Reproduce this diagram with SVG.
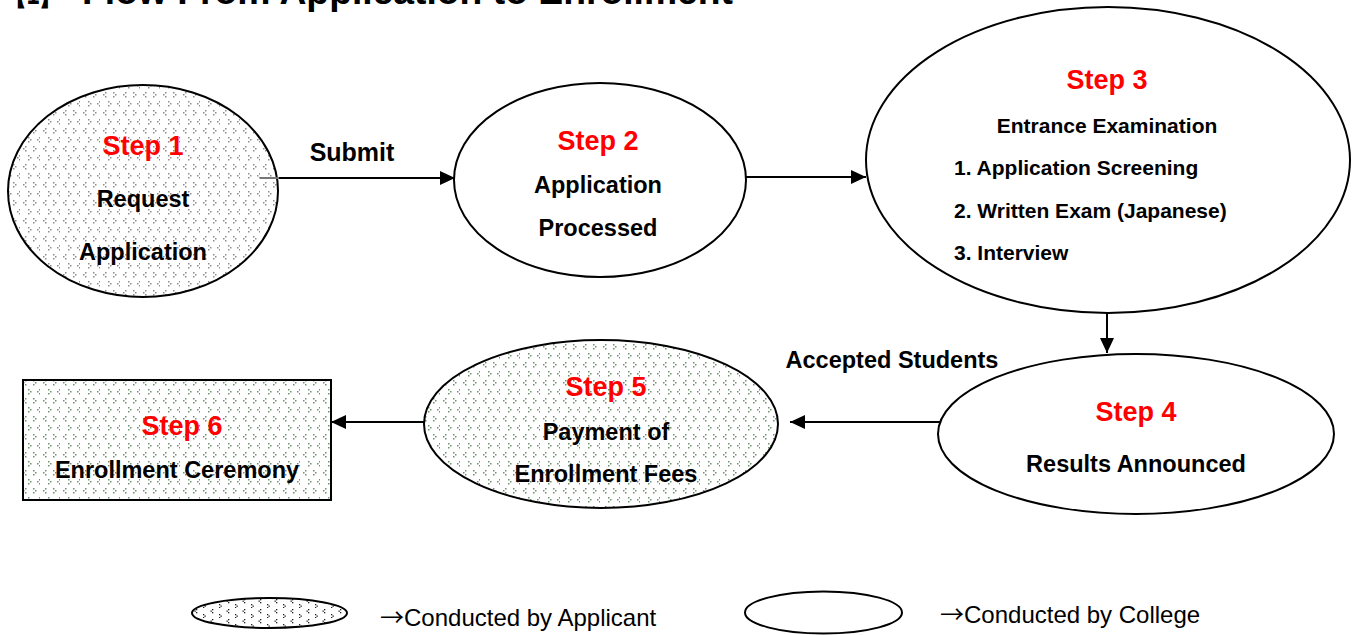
<svg xmlns="http://www.w3.org/2000/svg" width="1357" height="635" viewBox="0 0 1357 635">
<style>
text{font-family:"Liberation Sans",Arial,sans-serif;}
.b{font-weight:bold;fill:#000;}
.step{font-weight:bold;fill:#ff0000;font-size:27px;text-anchor:middle;}
.body{font-weight:bold;font-size:23.5px;text-anchor:middle;}
.list{font-weight:bold;font-size:21px;}
.shape{stroke:#000;stroke-width:2;}
.conn{stroke:#000;stroke-width:2;fill:none;marker-end:url(#arr);}
.leg{font-size:24px;fill:#000;}
.ar{font-family:"Noto Sans CJK JP",sans-serif;}
</style>
<defs>
<marker id="arr" markerUnits="userSpaceOnUse" markerWidth="16" markerHeight="16" refX="15" refY="7" orient="auto">
<path d="M0,0 L15,7 L0,14 z" fill="#000"/>
</marker>
<pattern id="pGray" width="20" height="18" patternUnits="userSpaceOnUse">
<rect width="20" height="18" fill="#fff"/>
<g fill="#8c8c8c">
<rect x="5" y="2" width="1.5" height="1.5"/><rect x="3" y="4" width="1.5" height="1.5"/><rect x="5" y="6" width="1.5" height="1.5"/>
<rect x="13" y="2" width="1.5" height="1.5"/><rect x="15" y="4" width="1.5" height="1.5"/><rect x="13" y="6" width="1.5" height="1.5"/>
<rect x="8" y="11" width="1.5" height="1.5"/><rect x="10" y="13" width="1.5" height="1.5"/><rect x="8" y="15" width="1.5" height="1.5"/>
<rect x="19" y="11" width="1.5" height="1.5"/><rect x="17" y="13" width="1.5" height="1.5"/><rect x="19" y="15" width="1.5" height="1.5"/>
</g>
</pattern>
<pattern id="pGreen" width="20" height="18" patternUnits="userSpaceOnUse">
<rect width="20" height="18" fill="#fff"/>
<g fill="#6f8f6f">
<rect x="5" y="2" width="1.5" height="1.5"/><rect x="3" y="4" width="1.5" height="1.5"/><rect x="5" y="6" width="1.5" height="1.5"/>
<rect x="13" y="2" width="1.5" height="1.5"/><rect x="15" y="4" width="1.5" height="1.5"/><rect x="13" y="6" width="1.5" height="1.5"/>
<rect x="8" y="11" width="1.5" height="1.5"/><rect x="10" y="13" width="1.5" height="1.5"/><rect x="8" y="15" width="1.5" height="1.5"/>
<rect x="19" y="11" width="1.5" height="1.5"/><rect x="17" y="13" width="1.5" height="1.5"/><rect x="19" y="15" width="1.5" height="1.5"/>
</g>
</pattern>
<pattern id="pDark" width="16" height="10" patternUnits="userSpaceOnUse" x="192" y="598">
<rect width="16" height="10" fill="#fff"/>
<g fill="#222">
<rect x="4" y="1" width="1.3" height="1.3"/><rect x="2.5" y="2.5" width="1.3" height="1.3"/><rect x="4" y="4" width="1.3" height="1.3"/>
<rect x="11" y="6" width="1.3" height="1.3"/><rect x="12.5" y="7.5" width="1.3" height="1.3"/><rect x="11" y="9" width="1.3" height="1.3"/>
</g>
</pattern>
</defs>
<rect width="1357" height="635" fill="#fff"/>

<g id="title">
<text x="4" y="4" class="b" font-size="34" font-family="'Noto Sans CJK JP',sans-serif" textLength="58" lengthAdjust="spacingAndGlyphs">【1】</text>
<text x="82" y="4" class="b" font-size="37" textLength="651" lengthAdjust="spacingAndGlyphs">Flow From Application to Enrollment</text>
</g>

<g id="step1">
<ellipse class="shape" cx="143" cy="191" rx="135" ry="106" fill="url(#pGray)"/>
<text x="143" y="155" class="step">Step 1</text>
<text x="143" y="207" class="body">Request</text>
<text x="143" y="260" class="body">Application</text>
</g>

<g id="step2">
<ellipse class="shape" cx="600" cy="180" rx="146" ry="97" fill="#fff"/>
<text x="598" y="150" class="step">Step 2</text>
<text x="598" y="193" class="body">Application</text>
<text x="598" y="236" class="body">Processed</text>
</g>

<g id="step3">
<ellipse class="shape" cx="1108" cy="160" rx="242" ry="153" fill="#fff"/>
<text x="1107" y="89" class="step">Step 3</text>
<text x="1107" y="133" class="list" text-anchor="middle">Entrance Examination</text>
<text x="954" y="175" class="list">1. Application Screening</text>
<text x="954" y="218" class="list">2. Written Exam (Japanese)</text>
<text x="954" y="260" class="list">3. Interview</text>
</g>

<g id="step4">
<ellipse class="shape" cx="1136" cy="434" rx="198" ry="80" fill="#fff"/>
<text x="1136" y="421" class="step">Step 4</text>
<text x="1136" y="472" class="body">Results Announced</text>
</g>

<g id="step5">
<ellipse class="shape" cx="601" cy="424" rx="177" ry="84" fill="url(#pGreen)"/>
<text x="606" y="396" class="step">Step 5</text>
<text x="606" y="440" class="body">Payment of</text>
<text x="606" y="482" class="body">Enrollment Fees</text>
</g>

<g id="step6">
<rect class="shape" x="23" y="380" width="308" height="120" fill="url(#pGreen)"/>
<text x="182" y="435" class="step">Step 6</text>
<text x="177" y="478" class="body" font-size="24">Enrollment Ceremony</text>
</g>

<g id="connectors">
<line x1="260" y1="178" x2="279" y2="178" stroke="#777" stroke-width="2"/>
<line class="conn" x1="279" y1="178" x2="455" y2="178"/>
<line class="conn" x1="746" y1="177" x2="866" y2="177"/>
<line class="conn" x1="1107" y1="313" x2="1107" y2="353"/>
<line class="conn" x1="941" y1="422" x2="790" y2="422"/>
<line class="conn" x1="424" y1="422" x2="331" y2="422"/>
<text x="352" y="161" class="b" font-size="25" text-anchor="middle">Submit</text>
<text x="892" y="368" class="b" font-size="23.5" text-anchor="middle">Accepted Students</text>
</g>

<g id="legend">
<ellipse class="shape" cx="269.5" cy="613" rx="77.5" ry="15" fill="url(#pDark)"/>
<text x="380" y="626" class="leg"><tspan class="ar">→</tspan>Conducted by Applicant</text>
<ellipse class="shape" cx="823.5" cy="612.5" rx="78.5" ry="21" fill="#fff"/>
<text x="940" y="623" class="leg"><tspan class="ar">→</tspan>Conducted by College</text>
</g>
</svg>
